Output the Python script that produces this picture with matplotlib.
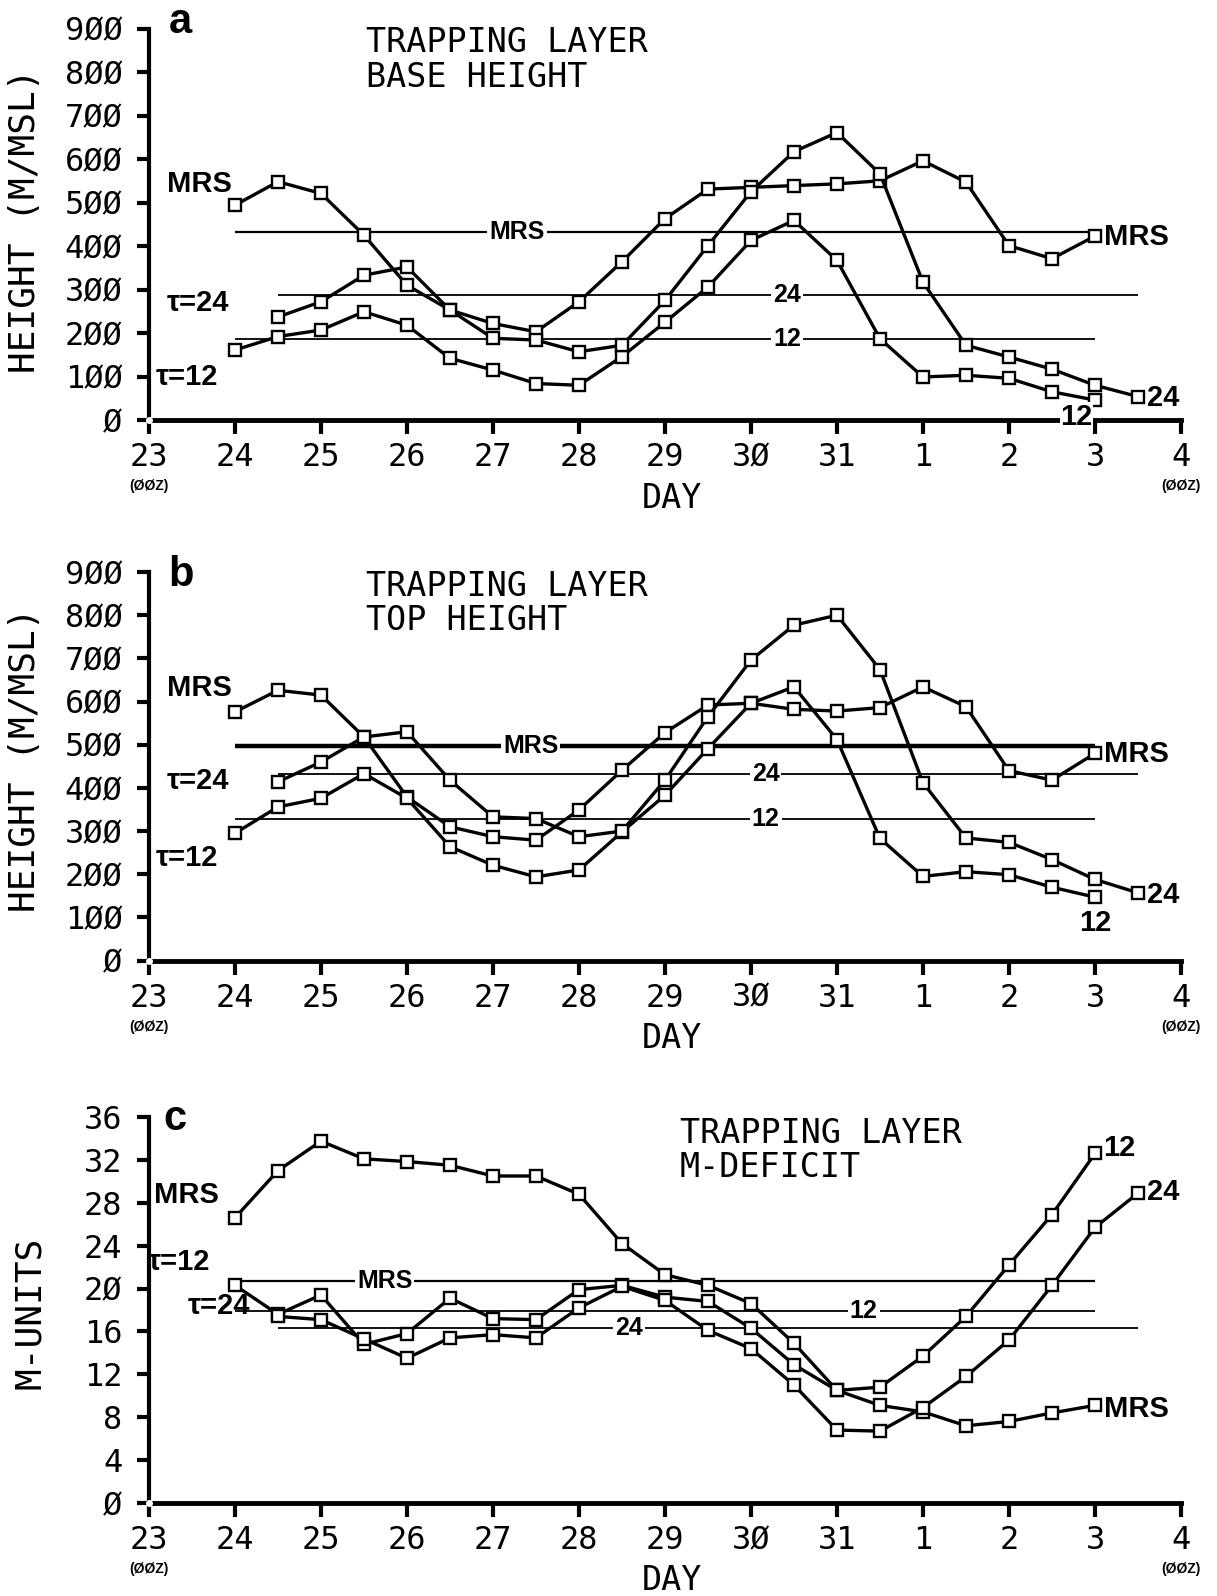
import numpy as np
import matplotlib.pyplot as plt

# time in days after 23 (00Z); observations every 12 h
t_obs = [1, 1.5, 2, 2.5, 3, 3.5, 4, 4.5, 5, 5.5, 6, 6.5, 7, 7.5, 8, 8.5, 9, 9.5, 10, 10.5, 11]
t_24 = [1.5, 2, 2.5, 3, 3.5, 4, 4.5, 5, 5.5, 6, 6.5, 7, 7.5, 8, 8.5, 9, 9.5, 10, 10.5, 11, 11.5]
day_labels = ['23', '24', '25', '26', '27', '28', '29', '3Ø', '31', '1', '2', '3', '4']

# a: trapping layer base height (m MSL)
a_mrs = [494, 548, 521, 425, 310, 253, 222, 203, 272, 364, 463, 531, 535, 539, 543, 550, 596, 547, 401, 371, 423]
a_t12 = [161, 192, 207, 249, 218, 142, 115, 84, 80, 146, 225, 306, 413, 459, 367, 187, 99, 103, 96, 65, 46]
a_t24 = [237, 272, 333, 352, 253, 188, 184, 157, 172, 275, 401, 525, 617, 661, 566, 317, 172, 145, 117, 80, 54]
a_means = [432, 186, 287]  # MRS, 12, 24

# b: trapping layer top height (m MSL)
b_mrs = [576, 626, 615, 518, 379, 310, 287, 279, 349, 441, 528, 592, 596, 582, 578, 586, 634, 588, 440, 418, 480]
b_t12 = [295, 356, 376, 433, 376, 264, 221, 194, 210, 298, 383, 491, 596, 634, 512, 283, 195, 206, 199, 170, 147]
b_t24 = [414, 460, 518, 530, 418, 333, 329, 287, 300, 418, 565, 696, 777, 800, 674, 412, 284, 274, 234, 188, 157]
b_means = [497, 327, 433]

# c: trapping layer M-deficit (M units)
c_mrs = [26.6, 31.0, 33.75, 32.1, 31.85, 31.5, 30.5, 30.5, 28.8, 24.2, 21.3, 20.3, 18.6, 14.9, 10.5, 9.1, 8.5, 7.2, 7.6, 8.4, 9.1]
c_t12 = [20.3, 17.6, 19.4, 14.8, 15.8, 19.1, 17.2, 17.1, 19.9, 20.3, 19.2, 18.8, 16.3, 12.9, 10.5, 10.8, 13.7, 17.4, 22.2, 26.9, 32.6]
c_t24 = [17.4, 17.1, 15.3, 13.5, 15.4, 15.7, 15.4, 18.2, 20.2, 18.9, 16.1, 14.4, 11.0, 6.8, 6.7, 8.9, 11.8, 15.2, 20.3, 25.7, 28.9]
c_means = [20.7, 17.9, 16.3]

PLOT = 'DejaVu Sans Mono'
BOLD = 'Liberation Sans'

fig = plt.figure(figsize=(12.17, 15.96), dpi=100)


def panel(rect, mrs, t12, t24, means, ymax, ystep, yticklabels):
    ax = fig.add_axes(rect)
    ax.set_xlim(0, 12)
    ax.set_ylim(0, ymax)
    for s in ['top', 'right']:
        ax.spines[s].set_visible(False)
    ax.spines['left'].set_linewidth(3)
    ax.spines['bottom'].set_linewidth(3.5)
    ax.set_xticks(range(13))
    ax.set_xticklabels(day_labels, family=PLOT, fontsize=23)
    ax.set_yticks(np.arange(0, ymax + ystep / 2, ystep))
    ax.set_yticklabels(yticklabels, family=PLOT, fontsize=23)
    ax.tick_params(axis='x', length=10, width=3, pad=6)
    ax.tick_params(axis='y', length=9, width=3, pad=10)

    # mean lines
    ax.hlines(means[0], t_obs[0], t_obs[-1], color='black', lw=1.6)
    ax.hlines(means[1], t_obs[0], t_obs[-1], color='black', lw=1.3)
    ax.hlines(means[2], t_24[0], t_24[-1], color='black', lw=1.3)

    kw = dict(color='black', lw=2.4, marker='s', ms=8.5, mfc='white', mec='black', mew=1.7,
              clip_on=False, zorder=4)
    ax.plot(t_obs, mrs, **kw)
    ax.plot(t_obs, t12, **kw)
    ax.plot(t_24, t24, **kw)
    ax.plot([0], [0], 'o', ms=4, mfc='white', mec='white', clip_on=False, zorder=6)

    for x in [0, 12]:
        ax.annotate('(ØØZ)', xy=(x, 0), xycoords=('data', 'axes fraction'),
                    xytext=(0, -66), textcoords='offset pixels', ha='center', va='center',
                    family=BOLD, fontweight='bold', fontsize=10)
    ax.annotate('DAY', xy=(6.08, 0), xycoords=('data', 'axes fraction'),
                xytext=(0, -78), textcoords='offset pixels', ha='center', va='center',
                family=PLOT, fontsize=24)
    return ax


def lab(ax, x, y, s, size=21, ha='left', box=False, pad=1.5):
    kw = dict(family=BOLD, fontweight='bold', fontsize=size, ha=ha, va='center', zorder=7)
    if box:
        kw['bbox'] = dict(facecolor='white', edgecolor='none', pad=pad)
    ax.text(x, y, s, **kw)


hticks = ['Ø', '1ØØ', '2ØØ', '3ØØ', '4ØØ', '5ØØ', '6ØØ', '7ØØ', '8ØØ', '9ØØ']

# ---- panel a
ax = panel([0.1224, 0.7368, 0.848, 0.2453], a_mrs, a_t12, a_t24, a_means, 900, 100, hticks)
ax.text(0.37, 915, 'a', family=BOLD, fontweight='bold', fontsize=30, ha='center', va='center')
ax.text(2.52, 905, 'TRAPPING LAYER\nBASE HEIGHT', family=PLOT, fontsize=24, va='top', linespacing=1.05)
lab(ax, 0.21, 542, 'MRS')
lab(ax, 0.21, 269, 'τ=24')
lab(ax, 0.08, 100, 'τ=12')
lab(ax, 11.1, 420, 'MRS')
lab(ax, 11.6, 50, '24')
lab(ax, 10.6, 8, '12', box=True, pad=0.5)
lab(ax, 4.28, a_means[0], 'MRS', size=18, ha='center', box=True)
lab(ax, 7.42, a_means[2], '24', size=18, ha='center', box=True)
lab(ax, 7.42, a_means[1], '12', size=18, ha='center', box=True)
fig.text(25 / 1217, 1 - 221 / 1596, 'HEIGHT (M/MSL)', family=PLOT, fontsize=26,
         rotation=90, ha='center', va='center')

# ---- panel b
ax = panel([0.1224, 0.3981, 0.848, 0.2435], b_mrs, b_t12, b_t24, b_means, 900, 100, hticks)
ax.hlines(b_means[0], t_obs[0], t_obs[-1], color='black', lw=3.2)
ax.text(0.37, 892, 'b', family=BOLD, fontweight='bold', fontsize=30, ha='center', va='center')
ax.text(2.52, 905, 'TRAPPING LAYER\nTOP HEIGHT', family=PLOT, fontsize=24, va='top', linespacing=1.05)
lab(ax, 0.21, 631, 'MRS')
lab(ax, 0.21, 415, 'τ=24')
lab(ax, 0.08, 238, 'τ=12')
lab(ax, 11.1, 478, 'MRS')
lab(ax, 11.6, 153, '24')
lab(ax, 11.0, 88, '12', ha='center')
lab(ax, 4.44, b_means[0], 'MRS', size=18, ha='center', box=True)
lab(ax, 7.17, b_means[2], '24', size=18, ha='center', box=True)
lab(ax, 7.17, b_means[1], '12', size=18, ha='center', box=True)
fig.text(25 / 1217, 1 - 760 / 1596, 'HEIGHT (M/MSL)', family=PLOT, fontsize=26,
         rotation=90, ha='center', va='center')

# ---- panel c
mticks = ['Ø', '4', '8', '12', '16', '2Ø', '24', '28', '32', '36']
ax = panel([0.1224, 0.0583, 0.848, 0.2418], c_mrs, c_t12, c_t24, c_means, 36, 4, mticks)
ax.text(0.3, 35.8, 'c', family=BOLD, fontweight='bold', fontsize=30, ha='center', va='center')
ax.text(6.17, 36.0, 'TRAPPING LAYER\nM-DEFICIT', family=PLOT, fontsize=24, va='top', linespacing=1.05)
lab(ax, 0.06, 28.7, 'MRS')
lab(ax, -0.02, 22.5, 'τ=12')
lab(ax, 0.45, 18.4, 'τ=24')
lab(ax, 11.1, 33.1, '12')
lab(ax, 11.6, 29.0, '24')
lab(ax, 11.1, 8.8, 'MRS')
lab(ax, 2.74, c_means[0], 'MRS', size=18, ha='center', box=True)
lab(ax, 8.31, c_means[1], '12', size=18, ha='center', box=True)
lab(ax, 5.58, c_means[2], '24', size=18, ha='center', box=True)
fig.text(30 / 1217, 1 - 1313 / 1596, 'M-UNITS', family=PLOT, fontsize=26,
         rotation=90, ha='center', va='center')

fig.savefig('out.png', dpi=100)
